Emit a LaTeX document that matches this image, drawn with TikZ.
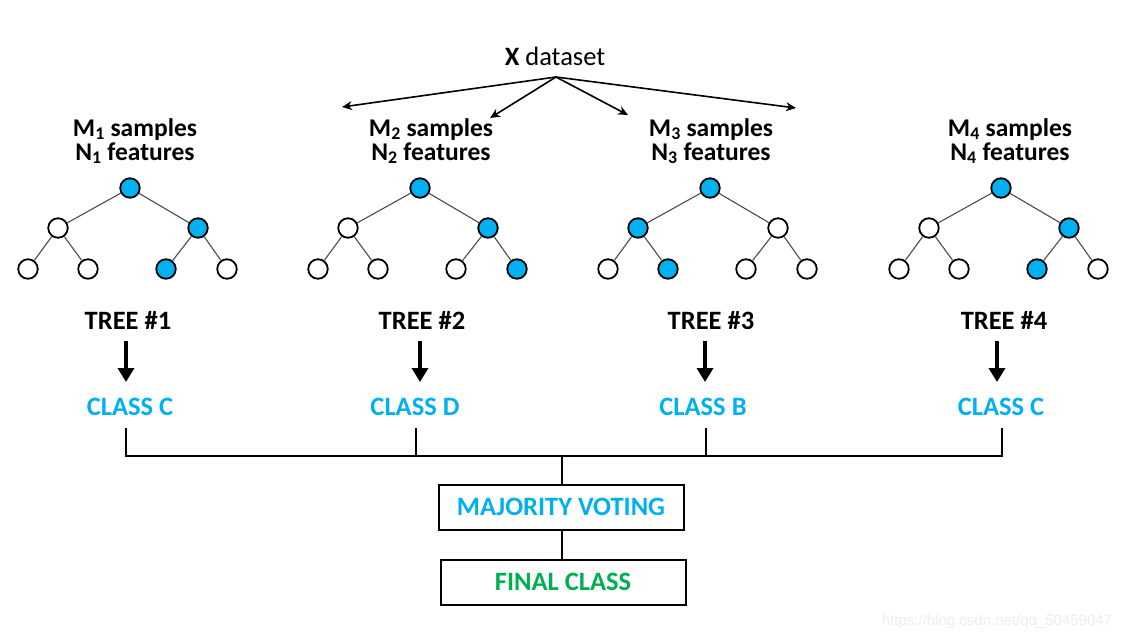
\documentclass[tikz,border=0pt]{standalone}
\usepackage{fontspec}
\setmainfont{Carlito}
\newfontfamily\wmfont{Liberation Sans}
\usetikzlibrary{arrows.meta}
\definecolor{cblue}{RGB}{0,176,240}
\definecolor{cgreen}{RGB}{0,176,80}
\newcommand\mytree[9]{%
  \node[tn,fill=#3] (#1r) at (#2,188) {};
  \node[tn,fill=#4] (#1a) at ([shift={(-72,40)}]#1r.center) {};
  \node[tn,fill=#5] (#1b) at ([shift={(68,40)}]#1r.center) {};
  \node[tn,fill=#6] (#1aa) at ([shift={(-30,41)}]#1a.center) {};
  \node[tn,fill=#7] (#1ab) at ([shift={(30,41)}]#1a.center) {};
  \node[tn,fill=#8] (#1ba) at ([shift={(-32,41)}]#1b.center) {};
  \node[tn,fill=#9] (#1bb) at ([shift={(29,41)}]#1b.center) {};
  \draw[te] (#1r) -- (#1a);
  \draw[te] (#1r) -- (#1b);
  \draw[te] (#1a) -- (#1aa);
  \draw[te] (#1a) -- (#1ab);
  \draw[te] (#1b) -- (#1ba);
  \draw[te] (#1b) -- (#1bb);
}
\newcommand\hdr[1]{M\textsubscript{#1} samples\\[-1pt]N\textsubscript{#1} features}
\begin{document}
\begin{tikzpicture}[x=1pt,y=-1pt,
  tn/.style={circle,draw=black,line width=1.8pt,minimum size=19.5pt,inner sep=0pt},
  te/.style={draw=black!70,line width=1.1pt},
  hd/.style={font=\fontsize{25.5}{25}\selectfont\bfseries,align=center,inner sep=0pt},
  tl/.style={font=\fontsize{26.5}{28}\selectfont\bfseries,inner sep=0pt,anchor=base},
  cl/.style={font=\fontsize{26.5}{28}\selectfont\bfseries,text=cblue,inner sep=0pt,anchor=base},
  bigarrow/.style={line width=3.6pt,-{Triangle[length=14pt,width=16pt]}},
  darrow/.style={line width=1.6pt,-{Stealth[length=10pt,width=9pt]}},
  bus/.style={line width=2.4pt},
  box/.style={draw=black,line width=2pt,minimum width=245pt,minimum height=45pt,font=\fontsize{26.5}{28}\selectfont\bfseries,inner sep=0pt}
]
\useasboundingbox[fill=white] (0,0) rectangle (1128,640);

% dataset
\node[font=\fontsize{26.5}{28}\selectfont,inner sep=0pt] (ds) at (555,56) {\textbf{X} dataset};
\coordinate (dsb) at (556,77);
\coordinate (d1) at (342,107);
\coordinate (d2) at (490,118);
\coordinate (d3) at (628,115);
\coordinate (d4) at (796,108);
\draw[darrow] (dsb) -- (d1);
\draw[darrow] (dsb) -- (d2);
\draw[darrow] (dsb) -- (d3);
\draw[darrow] (dsb) -- (d4);

% headers
\node[hd] (h1) at (135,141) {\hdr{1}};
\node[hd] (h2) at (431,141) {\hdr{2}};
\node[hd] (h3) at (711,141) {\hdr{3}};
\node[hd] (h4) at (1010,141) {\hdr{4}};

% trees
\mytree{ta}{130}{cblue}{white}{cblue}{white}{white}{cblue}{white}
\mytree{tb}{420}{cblue}{white}{cblue}{white}{white}{white}{cblue}
\mytree{tc}{710}{cblue}{cblue}{white}{white}{cblue}{white}{white}
\mytree{td}{1001}{cblue}{white}{cblue}{white}{white}{cblue}{white}

% tree labels
\node[tl] (l1) at (128,329) {TREE \#1};
\node[tl] (l2) at (422,329) {TREE \#2};
\node[tl] (l3) at (711,329) {TREE \#3};
\node[tl] (l4) at (1004,329) {TREE \#4};

% classes
\node[cl] (c1) at (130,415) {CLASS C};
\node[cl] (c2) at (415,415) {CLASS D};
\node[cl] (c3) at (703,415) {CLASS B};
\node[cl] (c4) at (1001,415) {CLASS C};

\draw[bigarrow] (126,341) -- (126,382);
\draw[bigarrow] (420,341) -- (420,382);
\draw[bigarrow] (705,341) -- (705,382);
\draw[bigarrow] (997,341) -- (997,382);

% boxes
\node[box,text=cblue] (mv) at (561,507) {MAJORITY VOTING};
\node[box,text=cgreen] (fc) at (563,582) {FINAL CLASS};

% bus
\coordinate (b1) at (126,456);
\coordinate (b2) at (416,456);
\coordinate (b3) at (706,456);
\coordinate (b4) at (1002,456);
\coordinate (bm) at (562,456);
\draw[bus] (126,428) -- (b1) -- (b4) -- (1002,428);
\draw[bus] (416,428) -- (b2);
\draw[bus] (706,428) -- (b3);
\draw[bus] (bm) -- (mv.north -| bm);
\draw[bus] (mv.south -| bm) -- (fc.north -| bm);

% watermark
\node[font=\wmfont\fontsize{15}{15}\selectfont,text=black!7,inner sep=0pt] (wm) at (997,622) {https://blog.csdn.net/qq\_50459047};
\end{tikzpicture}
\end{document}
